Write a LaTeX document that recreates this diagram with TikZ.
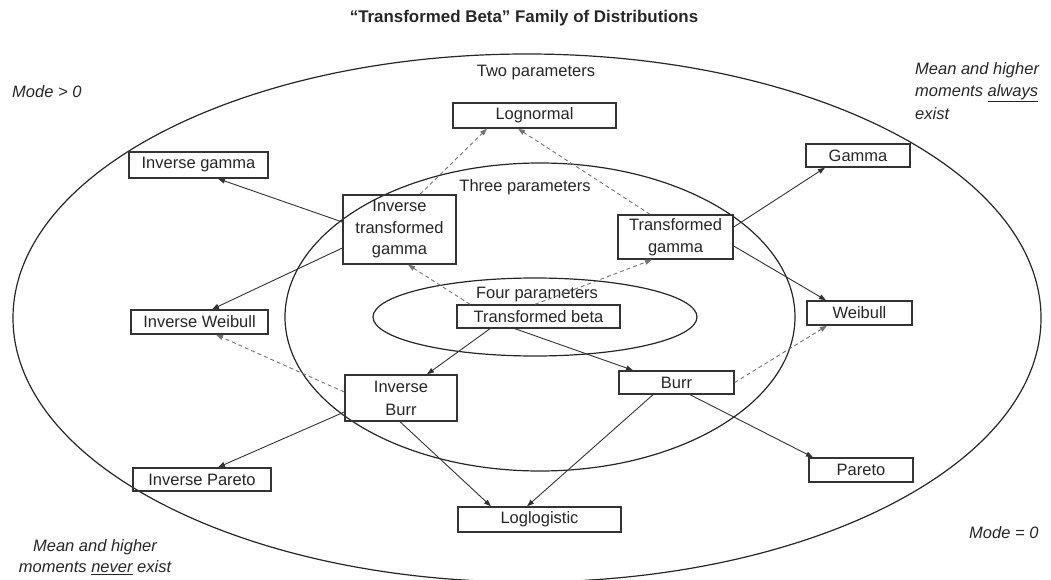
\documentclass[tikz,border=0pt]{standalone}
\usepackage{fontspec}
\setmainfont{Liberation Sans}
\usetikzlibrary{arrows.meta,calc}
\begin{document}
\begin{tikzpicture}[x=1pt,y=-1pt,
  every node/.style={font=\fontsize{16.5}{22}\selectfont, text=black!85, inner sep=0pt},
  dbox/.style={draw=black!80, line width=1.4pt, align=center},
  ell/.style={draw=black!85, line width=1.2pt},
  arr/.style={-{Triangle[length=7pt,width=5pt]}, line width=0.9pt, draw=black!80},
  dasharr/.style={-{Triangle[length=7pt,width=5pt]}, line width=0.9pt, draw=black!55, dash pattern=on 4pt off 3pt},
  note/.style={font=\fontsize{16.5}{22.5}\selectfont\itshape, align=left}
]
\useasboundingbox (0,0) rectangle (1051,580);

% ellipses
\draw[ell] (527,318) ellipse [x radius=514pt, y radius=264pt];
\draw[ell] (540,317) ellipse [x radius=255pt, y radius=154pt];
\draw[ell] (535,317) ellipse [x radius=162pt, y radius=39pt];

% title and labels
\node[font=\fontsize{16.9}{20}\selectfont\bfseries] (title) at (524,18) {“Transformed Beta” Family of Distributions};
\node (two) at (536,73) {Two parameters};
\node (three) at (525,187) {Three parameters};
\node (four) at (537,295) {Four parameters};
\node[note, anchor=west] (modegt) at (12,92) {Mode > 0};
\node[note, anchor=north west] (always) at (915,62) {Mean and higher\\moments \underline{always}\\exist};
\node[note, align=center, font=\fontsize{16.5}{21}\selectfont\itshape] (never) at (95,557) {Mean and higher\\moments \underline{never} exist};
\node[note, anchor=west] (modeeq) at (969,533) {Mode = 0};

% boxes
\node[dbox, minimum width=163pt, minimum height=25pt] (ln) at (534.5,115.5) {Lognormal};
\node[dbox, minimum width=139pt, minimum height=26pt] (ig) at (198.5,165) {Inverse gamma};
\node[dbox, minimum width=104pt, minimum height=23pt] (gam) at (858,155.5) {Gamma};
\node[dbox, minimum width=113pt, minimum height=69pt, font=\fontsize{16.5}{21.5}\selectfont] (itg) at (399.5,229.5) {Inverse\\transformed\\gamma};
\node[dbox, minimum width=115pt, minimum height=44pt, font=\fontsize{16.5}{21.5}\selectfont] (tg) at (675.5,237) {Transformed\\gamma};
\node[dbox, minimum width=137pt, minimum height=24pt] (iw) at (199.5,322) {Inverse Weibull};
\node[dbox, minimum width=163pt, minimum height=23pt] (tb) at (538.5,316.5) {Transformed beta};
\node[dbox, minimum width=105pt, minimum height=24pt] (wei) at (859.5,313) {Weibull};
\node[dbox, minimum width=112pt, minimum height=46pt, font=\fontsize{16.5}{23}\selectfont] (ib) at (401,398) {Inverse\\Burr};
\node[dbox, minimum width=115pt, minimum height=23pt] (burr) at (676.5,382.5) {Burr};
\node[dbox, minimum width=138pt, minimum height=23pt] (ip) at (202,479.5) {Inverse Pareto};
\node[dbox, minimum width=104pt, minimum height=24pt] (par) at (861,470) {Pareto};
\node[dbox, minimum width=163pt, minimum height=25pt] (ll) at (539.5,519.5) {Loglogistic};

% solid connectors
\draw[arr] ($(itg.west)+(0,-7.5)$) -- ($(ig.south)+(19.5,0)$);
\draw[arr] ($(itg.west)+(0,18.5)$) -- ($(iw.north)+(12.5,0)$);
\draw[arr] ($(tg.east)+(0,-10)$) -- ($(gam.south)+(-33,0)$);
\draw[arr] ($(tg.east)+(0,9)$) -- ($(wei.north)+(-33.5,0)$);
\draw[arr] ($(tb.south)+(-48.5,0)$) -- ($(ib.north)+(26,0)$);
\draw[arr] ($(tb.south)+(-23.5,0)$) -- ($(burr.north)+(-43.5,0)$);
\draw[arr] ($(ib.west)+(0,14)$) -- ($(ip.north)+(16,0)$);
\draw[arr] ($(ib.south)+(-1,0)$) -- ($(ll.north)+(-48.5,0)$);
\draw[arr] ($(burr.south)+(-23.5,0)$) -- ($(ll.north)+(-12.5,0)$);
\draw[arr] ($(burr.south)+(13.5,0)$) -- ($(par.north)+(-48,0)$);

% dashed connectors
\draw[dasharr] ($(itg.north)+(20.5,0)$) -- ($(ln.south)+(-47.5,0)$);
\draw[dasharr] ($(tg.north)+(-25.5,0)$) -- ($(ln.south)+(-16.5,0)$);
\draw[dasharr] ($(tb.north)+(-68.5,0)$) -- ($(itg.south)+(8.5,0)$);
\draw[dasharr] ($(tb.north)+(-3.5,0)$) -- ($(tg.south)+(-23.5,0)$);
\draw[dasharr] ($(ib.west)+(0,-6)$) -- ($(iw.south)+(16.5,0)$);
\draw[dasharr] (burr.east) -- ($(wei.south)+(-32.5,0)$);
\end{tikzpicture}
\end{document}
